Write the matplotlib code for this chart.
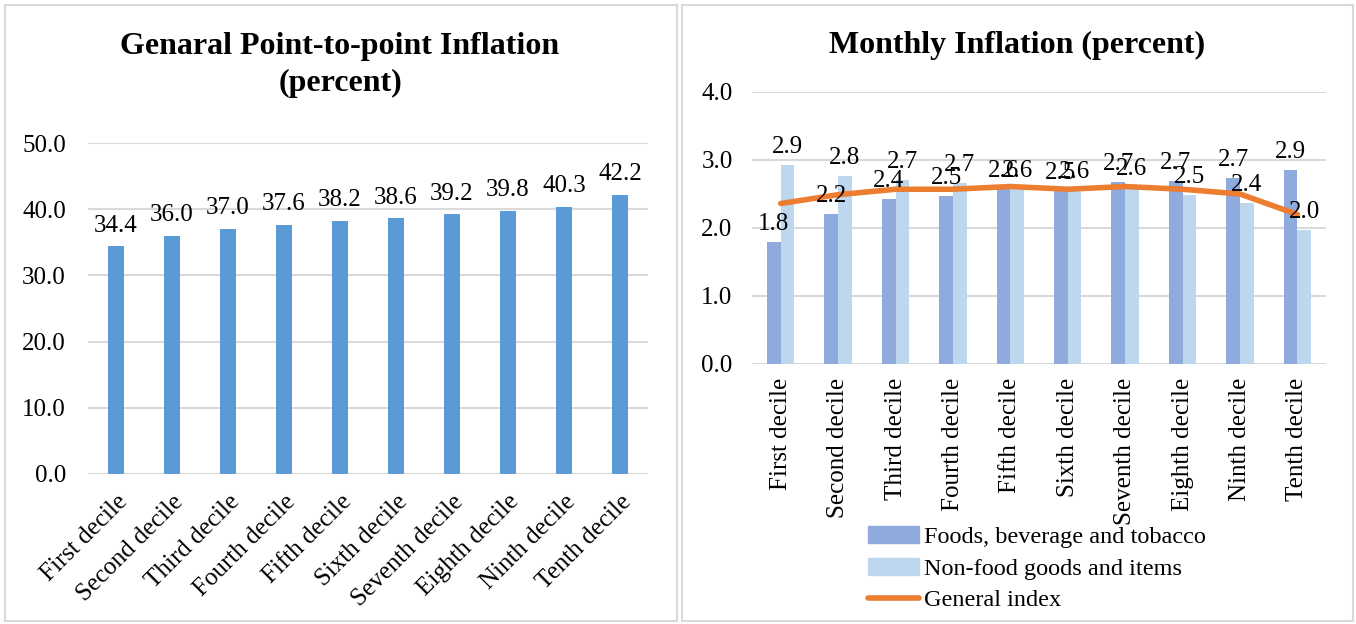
import matplotlib
matplotlib.use("Agg")
import matplotlib.pyplot as plt
from matplotlib.patches import Rectangle, Patch
from matplotlib.lines import Line2D
import numpy as np

plt.rcParams["font.family"] = ["Liberation Serif", "DejaVu Serif"]

deciles = ["First decile", "Second decile", "Third decile", "Fourth decile", "Fifth decile",
           "Sixth decile", "Seventh decile", "Eighth decile", "Ninth decile", "Tenth decile"]
p2p = [34.4, 36.0, 37.0, 37.6, 38.2, 38.6, 39.2, 39.8, 40.3, 42.2]
food = [1.79, 2.20, 2.42, 2.47, 2.58, 2.54, 2.68, 2.69, 2.74, 2.86]
nonfood = [2.92, 2.76, 2.70, 2.66, 2.57, 2.56, 2.60, 2.49, 2.37, 1.97]
general = [2.36, 2.49, 2.57, 2.57, 2.61, 2.57, 2.61, 2.57, 2.50, 2.20]

W, H = 1356, 624
fig = plt.figure(figsize=(W / 100, H / 100), dpi=100)
grid_c = "#D9D9D9"
FS = 18

def fx(px): return px / W
def fy(py): return 1 - py / H

# panel frames
for x0, x1 in [(5, 677), (682, 1353)]:
    fig.patches.append(Rectangle((fx(x0), fy(621)), fx(x1 - x0), (621 - 5) / H,
                                 transform=fig.transFigure, fill=False,
                                 edgecolor=grid_c, linewidth=1.5))

x = np.arange(len(deciles))

# left chart
ax1 = fig.add_axes([fx(88), fy(474), fx(648 - 88), (474 - 143) / H])
ax1.bar(x, p2p, width=0.3, color="#5B9BD5", zorder=2)
for xi, v in zip(x, p2p):
    ax1.annotate(f"{v:.1f}", (xi, v), xytext=(0, 7), textcoords="offset points",
                 ha="center", va="bottom", fontsize=FS)
ax1.set_ylim(0, 50)
ax1.set_xlim(-0.5, 9.5)
ax1.set_yticks([0, 10, 20, 30, 40, 50])
ax1.set_yticklabels([f"{t:.1f}" for t in [0, 10, 20, 30, 40, 50]])
ax1.set_xticks(x)
ax1.set_xticklabels(deciles, rotation=45, ha="right", rotation_mode="anchor")
ax1.tick_params(axis="y", length=0, labelsize=FS, pad=16)
ax1.tick_params(axis="x", length=0, labelsize=FS, pad=12)
ax1.grid(axis="y", color=grid_c, linewidth=1.5, zorder=0)
for s in ax1.spines.values():
    s.set_visible(False)
fig.text(fx(340), fy(65), "Genaral Point-to-point Inflation\n(percent)", ha="center",
         va="center", fontsize=23, fontweight="bold", linespacing=1.4)

# right chart
ax2 = fig.add_axes([fx(752), fy(364), fx(1326 - 752), (364 - 92) / H])
bw = 0.24
ax2.bar(x - bw / 2, food, width=bw, color="#8FAADC", zorder=2,
        label="Foods, beverage and tobacco")
ax2.bar(x + bw / 2, nonfood, width=bw, color="#BDD7EE", zorder=2,
        label="Non-food goods and items")
ax2.plot(x, general, color="#ED7D31", linewidth=4, zorder=3, label="General index",
         solid_capstyle="round")
for xi, v in zip(x, food):
    ax2.annotate(f"{v:.1f}", (xi - bw / 2, v), xytext=(0, 5), textcoords="offset points",
                 ha="center", va="bottom", fontsize=FS, zorder=4)
for xi, v in zip(x, nonfood):
    ax2.annotate(f"{v:.1f}", (xi + bw / 2, v), xytext=(0, 5), textcoords="offset points",
                 ha="center", va="bottom", fontsize=FS, zorder=4)
ax2.set_ylim(0, 4)
ax2.set_xlim(-0.5, 9.5)
ax2.set_yticks([0, 1, 2, 3, 4])
ax2.set_yticklabels([f"{t:.1f}" for t in [0, 1, 2, 3, 4]])
ax2.set_xticks(x)
ax2.set_xticklabels(deciles, rotation=90, ha="center", va="top")
ax2.tick_params(axis="y", length=0, labelsize=FS, pad=14)
ax2.tick_params(axis="x", length=0, labelsize=FS, pad=10)
ax2.grid(axis="y", color=grid_c, linewidth=1.5, zorder=0)
for s in ax2.spines.values():
    s.set_visible(False)
fig.text(fx(1017), fy(45), "Monthly Inflation (percent)", ha="center", va="center",
         fontsize=23, fontweight="bold")

handles = [Patch(color="#8FAADC"), Patch(color="#BDD7EE"),
           Line2D([], [], color="#ED7D31", linewidth=4, solid_capstyle="round")]
labels = ["Foods, beverage and tobacco", "Non-food goods and items", "General index"]
fig.legend(handles, labels, loc="upper left", bbox_to_anchor=(fx(868), fy(526)),
           frameon=False, fontsize=17.5, handlelength=2.1, handletextpad=0.2,
           labelspacing=0.4, borderpad=0, borderaxespad=0)

fig.savefig("out.png", dpi=100)
